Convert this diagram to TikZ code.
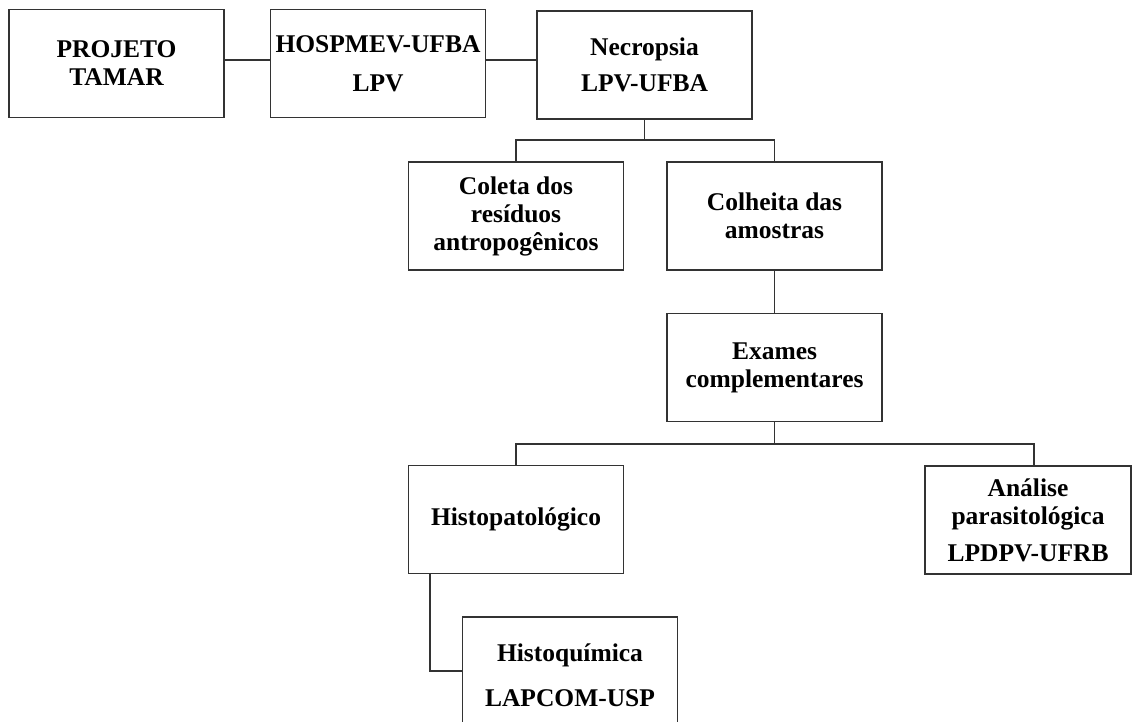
\documentclass[tikz,border=0pt]{standalone}
\usepackage{fontspec}
\setmainfont{Liberation Serif}
\begin{document}
\begin{tikzpicture}[x=1pt,y=-1pt,
  box/.style={draw=black!80, line width=1.2pt, minimum width=215pt, minimum height=108pt,
    inner sep=0pt, align=center, font=\fontsize{25.5}{28}\selectfont\bfseries},
  link/.style={draw=black!80, line width=1.1pt}]
\useasboundingbox (0,0) rectangle (1132,722);
\node[box] (A) at (116.5,63.5) {PROJETO\\TAMAR};
\node[box] (B) at (378,63.5) {HOSPMEV-UFBA\\[11pt]LPV};
\node[box] (C) at (644.5,65) {Necropsia\\[8pt]LPV-UFBA};
\node[box] (D) at (516,216) {Coleta dos\\resíduos\\antropogênicos};
\node[box] (E) at (774.5,216) {Colheita das\\amostras};
\node[box] (F) at (774.5,367.5) {Exames\\complementares};
\node[box] (G) at (516,519.5) {Histopatológico};
\node[box, minimum width=206pt] (H) at (1028,520) {Análise\\parasitológica\\[9pt]LPDPV-UFRB};
\node[box, minimum height=116pt] (I) at (570,675) {Histoquímica\\[17pt]LAPCOM-USP};
% connectors
\draw[link] ([yshift=3.5pt]A.east) -- ([yshift=3.5pt]B.west);
\draw[link] ([yshift=3.5pt]B.east) -- ([yshift=5pt]C.west);
\coordinate (c1) at (644.5,140);
\draw[link] (C.south) -- (c1);
\draw[link] (D.north) |- (c1) -| (E.north);
\draw[link] (E.south) -- (F.north);
\coordinate (f1) at (774.5,444);
\coordinate (h1) at (1034,444);
\coordinate (h2) at (1034,466);
\draw[link] (F.south) -- (f1);
\draw[link] (G.north) |- (h1) -- (h2);
\coordinate (g1) at (430,574);
\coordinate (g2) at (430,671);
\coordinate (i1) at (462,671);
\draw[link] (g1) -- (g2) -- (i1);
\end{tikzpicture}
\end{document}
